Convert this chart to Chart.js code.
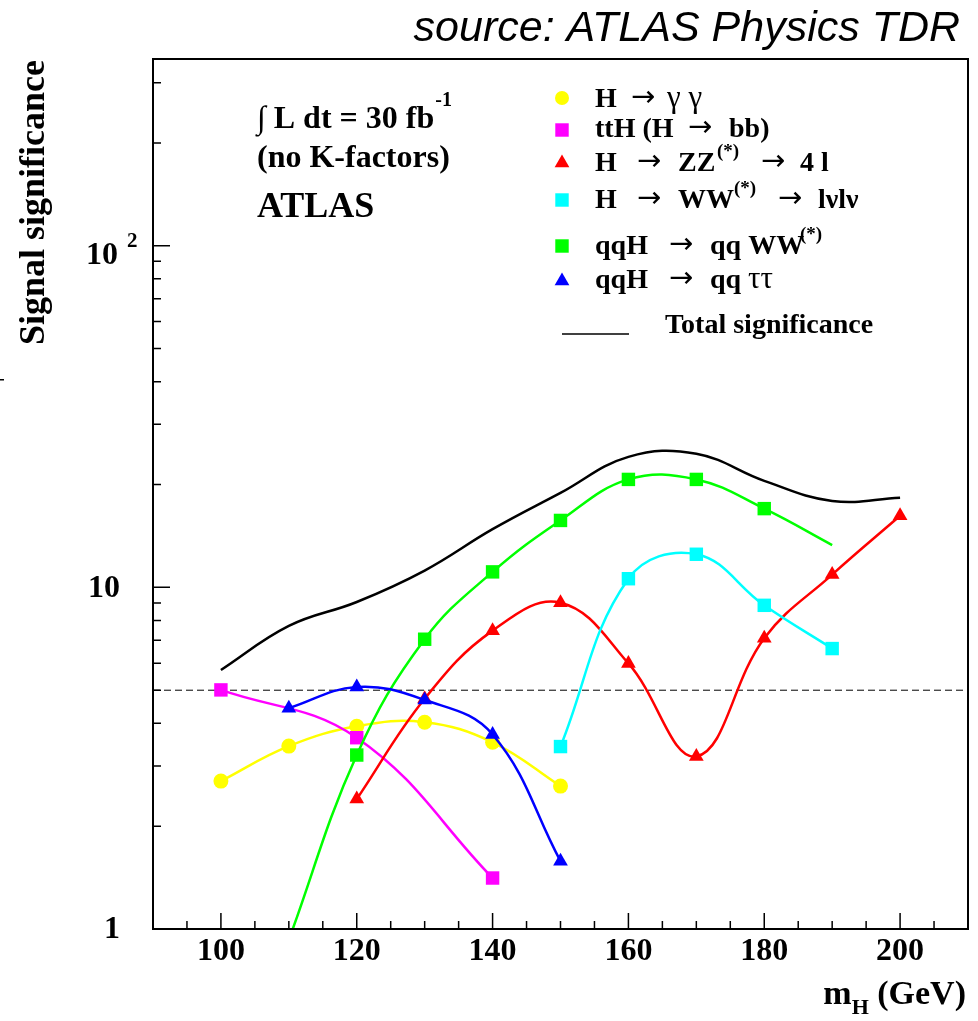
<!DOCTYPE html>
<html>
<head>
<meta charset="utf-8">
<script src="https://cdn.jsdelivr.net/npm/chart.js@4.4.0/dist/chart.umd.min.js"></script>
<style>
  html, body { margin: 0; padding: 0; background: #fff; }
  #wrap { width: 978px; height: 1021px; }
</style>
</head>
<body>
<div id="wrap"><canvas id="chart" width="978" height="1021"></canvas></div>
<script>
// Higgs mass points (GeV) and signal significance for each channel
const massGG = [100, 110, 120, 130, 140, 150];
const signifGG = [2.71, 3.43, 3.92, 4.03, 3.52, 2.62];

const massTTH = [100, 120, 140];
const signifTTH = [5.01, 3.63, 1.41];

const massZZ = [120, 130, 140, 150, 160, 170, 180, 190, 200];
const signifZZ = [2.40, 4.72, 7.47, 9.02, 5.99, 3.20, 7.10, 10.9, 16.2];

const massWW = [150, 160, 170, 180, 190];
const signifWW = [3.42, 10.6, 12.5, 8.86, 6.62];

const massQQWW = [110, 120, 130, 140, 150, 160, 170, 180, 190];
const signifQQWW = [0.93, 3.23, 7.05, 11.1, 15.7, 20.7, 20.7, 17.0, 13.3];
const markerQQWW = [false, true, true, true, true, true, true, true, false];

const massQQTT = [110, 120, 130, 140, 150];
const signifQQTT = [4.43, 5.11, 4.68, 3.71, 1.58];

const massTotal = [100, 110, 120, 130, 140, 150, 160, 170, 180, 190, 200];
const signifTotal = [5.73, 7.71, 9.06, 11.2, 14.8, 18.9, 24.1, 24.6, 20.5, 17.9, 18.3];

const discoveryLevel = 5;

// axis ranges and ticks
const xMin = 90, xMax = 210;
const yMin = 1, yMax = 352;
const xMajorTicks = [100, 120, 140, 160, 180, 200];
const xMinorStep = 5;
const yMajorTicks = [1, 10, 100];

const serif = '"Liberation Serif", "DejaVu Serif", serif';
const sans = '"Liberation Sans", Arial, sans-serif';

function pts(xs, ys) {
    return xs.map((m, i) => ({ x: m, y: ys[i] }));
}

// draws a list of text pieces [x, text, kind] on one baseline
function drawPieces(ctx, baseY, pieces, size) {
    pieces.forEach(p => {
        const kind = p[2] || 'n';
        if (kind === 'sup') {
            ctx.font = 'bold ' + Math.round(size * 0.68) + 'px ' + serif;
            ctx.fillText(p[1], p[0], baseY - size * 0.5);
        } else if (kind === 'arr') {
            ctx.font = Math.round(size * 1.05) + 'px "DejaVu Sans", sans-serif';
            ctx.fillText(p[1], p[0], baseY - 1);
        } else if (kind === 'sym') {
            ctx.font = Math.round(size * 1.1) + 'px ' + serif;
            ctx.fillText(p[1], p[0], baseY);
        } else {
            ctx.font = 'bold ' + size + 'px ' + serif;
            ctx.fillText(p[1], p[0], baseY);
        }
    });
}

const legendRows = [
    { color: '#ffff00', style: 'circle', radius: 7, y: 98, base: 107, pieces: [[595, 'H'], [631, '→', 'arr'], [667, 'γ γ', 'sym']] },
    { color: '#ff00ff', style: 'rect', radius: 9.5, y: 130, base: 137, pieces: [[595, 'ttH (H'], [688, '→', 'arr'], [729, 'bb)']] },
    { color: '#ff0000', style: 'triangle', radius: 8.5, y: 163, base: 171, pieces: [[595, 'H'], [637, '→', 'arr'], [678, 'ZZ'], [717, '(*)', 'sup'], [761, '→', 'arr'], [800, '4 l']] },
    { color: '#00ffff', style: 'rect', radius: 9.5, y: 200, base: 208, pieces: [[595, 'H'], [637, '→', 'arr'], [678, 'WW'], [734, '(*)', 'sup'], [778, '→', 'arr'], [818, 'lνlν']] },
    { color: '#00ff00', style: 'rect', radius: 9.5, y: 246, base: 254, pieces: [[595, 'qqH'], [669, '→', 'arr'], [710, 'qq WW'], [800, '(*)', 'sup']] },
    { color: '#0000ff', style: 'triangle', radius: 8.5, y: 281, base: 288, pieces: [[595, 'qqH'], [669, '→', 'arr'], [710, 'qq'], [748, 'ττ', 'sym']] }
];

const atlasDecor = {
    id: 'atlasDecor',
    beforeDatasetsDraw(chart) {
        const { ctx, chartArea: a, scales: { y } } = chart;
        const py = y.getPixelForValue(discoveryLevel);
        ctx.save();
        ctx.strokeStyle = '#000';
        ctx.lineWidth = 1;
        ctx.setLineDash([7, 4]);
        ctx.beginPath();
        ctx.moveTo(a.left, py);
        ctx.lineTo(a.right, py);
        ctx.stroke();
        ctx.restore();
    },
    afterDatasetsDraw(chart) {
        const { ctx, chartArea: a, scales: { x, y } } = chart;
        ctx.save();

        // frame
        ctx.strokeStyle = '#000';
        ctx.lineWidth = 2;
        ctx.strokeRect(a.left, a.top, a.right - a.left, a.bottom - a.top);

        // x ticks (inside, pointing up)
        ctx.lineWidth = 1.5;
        ctx.beginPath();
        for (let v = xMin; v <= xMax; v += xMinorStep) {
            const px = x.getPixelForValue(v);
            const len = xMajorTicks.includes(v) ? 16 : 8;
            ctx.moveTo(px, a.bottom);
            ctx.lineTo(px, a.bottom - len);
        }
        // y ticks (inside, pointing right)
        yMajorTicks.forEach(d => {
            for (let k = 1; k <= 9; k++) {
                const v = k * d;
                if (v < yMin || v > yMax) continue;
                const py = y.getPixelForValue(v);
                const len = k === 1 ? 17 : 8;
                ctx.moveTo(a.left, py);
                ctx.lineTo(a.left + len, py);
            }
        });
        ctx.stroke();

        ctx.fillStyle = '#000';

        // x tick labels
        ctx.font = 'bold 32px ' + serif;
        ctx.textAlign = 'center';
        ctx.textBaseline = 'middle';
        xMajorTicks.forEach(v => {
            ctx.fillText(String(v), x.getPixelForValue(v), a.bottom + 23);
        });

        // y tick labels
        ctx.textAlign = 'right';
        yMajorTicks.forEach(v => {
            const py = y.getPixelForValue(v);
            const exp = Math.round(Math.log10(v));
            ctx.font = 'bold 32px ' + serif;
            if (exp < 2) {
                ctx.fillText(String(v), 120, py + 1);
            } else {
                ctx.fillText('10', 118, py + 10);
                ctx.textAlign = 'left';
                ctx.font = 'bold 21px ' + serif;
                ctx.fillText(String(exp), 127, py - 4);
                ctx.textAlign = 'right';
            }
        });

        // axis titles
        ctx.textBaseline = 'alphabetic';
        ctx.save();
        ctx.translate(44, 60);
        ctx.rotate(-Math.PI / 2);
        ctx.textAlign = 'right';
        ctx.font = 'bold 36px ' + serif;
        ctx.fillText('Signal significance', 0, 0);
        ctx.restore();

        ctx.textAlign = 'left';
        ctx.font = 'bold 34px ' + serif;
        const wGeV = ctx.measureText(' (GeV)').width;
        const wM = ctx.measureText('m').width;
        ctx.font = 'bold 22px ' + serif;
        const wH = ctx.measureText('H').width;
        let tx = 966 - wGeV - wH - wM;
        ctx.font = 'bold 34px ' + serif;
        ctx.fillText('m', tx, 1004);
        ctx.font = 'bold 22px ' + serif;
        ctx.fillText('H', tx + wM, 1014);
        ctx.font = 'bold 34px ' + serif;
        ctx.fillText(' (GeV)', tx + wM + wH, 1004);

        // title
        ctx.textAlign = 'right';
        ctx.font = 'italic 43px ' + sans;
        ctx.fillText('source: ATLAS Physics TDR', 960, 41);

        // luminosity text
        ctx.textAlign = 'left';
        ctx.font = 'bold 32px ' + serif;
        const lumi = '∫ L dt = 30 fb';
        ctx.fillText(lumi, 257, 128);
        const wl = ctx.measureText(lumi).width;
        ctx.font = 'bold 20px ' + serif;
        ctx.fillText('-1', 257 + wl + 1, 106);
        ctx.font = 'bold 32px ' + serif;
        ctx.fillText('(no K-factors)', 257, 167);
        ctx.font = 'bold 36px ' + serif;
        ctx.fillText('ATLAS', 257, 217);

        // legend
        legendRows.forEach(r => {
            ctx.fillStyle = r.color;
            ctx.strokeStyle = r.color;
            Chart.helpers.drawPoint(ctx, { pointStyle: r.style, radius: r.radius, rotation: 0, borderWidth: 0 }, 562, r.y);
            ctx.fillStyle = '#000';
            drawPieces(ctx, r.base, r.pieces, 28);
        });
        ctx.strokeStyle = '#000';
        ctx.lineWidth = 1.5;
        ctx.beginPath();
        ctx.moveTo(562, 334);
        ctx.lineTo(629, 334);
        ctx.stroke();
        drawPieces(ctx, 333, [[665, 'Total significance']], 28);

        // stray mark at the left border of the original
        ctx.fillRect(0, 379, 4, 1.5);

        ctx.restore();
    }
};

function series(label, xs, ys, color, style, radius, order, shown) {
    return {
        label: label,
        data: pts(xs, ys),
        borderColor: color,
        backgroundColor: color,
        pointBackgroundColor: color,
        pointBorderColor: color,
        pointBorderWidth: 0,
        pointStyle: style,
        pointRadius: shown ? shown.map(s => s ? radius : 0) : radius,
        borderWidth: 2.5,
        tension: 0.4,
        order: order
    };
}

const ctx = document.getElementById('chart').getContext('2d');
new Chart(ctx, {
    type: 'line',
    data: {
        datasets: [
            series('H → γγ', massGG, signifGG, '#ffff00', 'circle', 7.5, 6),
            series('ttH (H → bb)', massTTH, signifTTH, '#ff00ff', 'rect', 9.5, 5),
            series('H → ZZ(*) → 4l', massZZ, signifZZ, '#ff0000', 'triangle', 8.5, 4),
            series('H → WW(*) → lνlν', massWW, signifWW, '#00ffff', 'rect', 9.5, 3),
            series('qqH → qq WW(*)', massQQWW, signifQQWW, '#00ff00', 'rect', 9.5, 2, markerQQWW),
            series('qqH → qq ττ', massQQTT, signifQQTT, '#0000ff', 'triangle', 8.5, 1),
            series('Total significance', massTotal, signifTotal, '#000000', 'circle', 0, 0)
        ]
    },
    options: {
        responsive: false,
        animation: false,
        events: [],
        layout: { padding: { left: 153, right: 10, top: 59, bottom: 92 } },
        scales: {
            x: { type: 'linear', min: xMin, max: xMax, display: false },
            y: { type: 'logarithmic', min: yMin, max: yMax, display: false }
        },
        plugins: {
            legend: { display: false },
            tooltip: { enabled: false }
        }
    },
    plugins: [atlasDecor]
});
</script>
</body>
</html>
